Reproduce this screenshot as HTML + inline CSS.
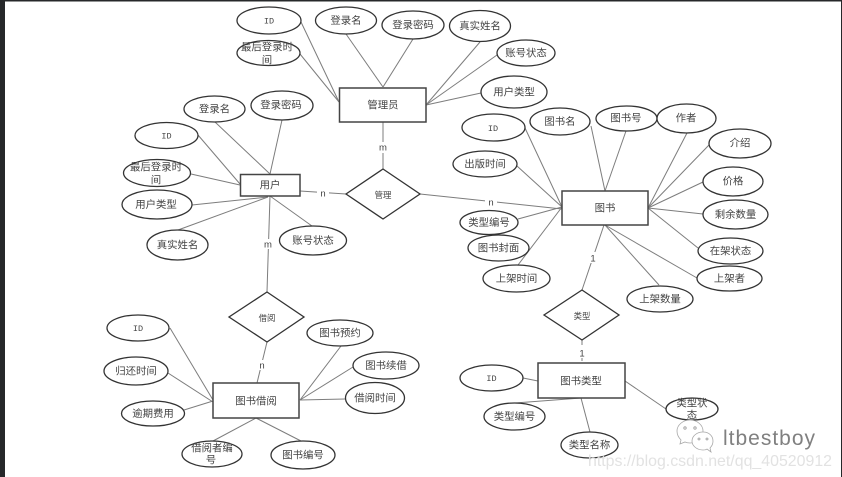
<!DOCTYPE html>
<html><head><meta charset="utf-8">
<style>
html,body{margin:0;padding:0;background:#fff;width:842px;height:477px;overflow:hidden}
svg{display:block}
.t{filter:blur(.3px)}
.t text{font-family:"Liberation Sans","WenQuanYi Zen Hei","Noto Sans CJK SC",sans-serif;font-size:10.4px;fill:#444;text-anchor:middle;dominant-baseline:central}
.t text.s{font-size:8.4px}
.t text.i{font-family:"Liberation Mono",monospace;font-size:8.5px}
.t text.r{font-size:9.5px}
.l line{stroke:#7d7d7d;stroke-width:1}
.e ellipse,.e rect,.e polygon{fill:#fff;stroke:#333;stroke-width:1.3}
.e rect{stroke-width:1.5;stroke:#444}
</style></head><body>
<svg width="842" height="477" viewBox="0 0 842 477" xmlns="http://www.w3.org/2000/svg">
<rect width="842" height="477" fill="#fff"/>
<g class="l">
<line x1="301" y1="22" x2="339" y2="102"/><line x1="300" y1="54" x2="339" y2="102"/>
<line x1="346" y1="34" x2="383" y2="87"/><line x1="413" y1="39" x2="383" y2="87"/>
<line x1="480" y1="42" x2="426" y2="105"/><line x1="497" y1="55" x2="426" y2="105"/>
<line x1="481" y1="93" x2="426" y2="105"/>
<line x1="383" y1="122" x2="383" y2="169"/>
<line x1="300" y1="191" x2="346" y2="194"/>
<line x1="420" y1="194" x2="562" y2="209"/>
<line x1="215" y1="122" x2="270" y2="174"/><line x1="282" y1="120" x2="270" y2="174"/>
<line x1="198" y1="135" x2="240" y2="184"/><line x1="191" y1="174" x2="240" y2="185"/>
<line x1="192" y1="205" x2="268" y2="197"/><line x1="178" y1="230" x2="268" y2="197"/>
<line x1="312" y1="226" x2="270" y2="196"/>
<line x1="270" y1="196" x2="267" y2="292"/>
<line x1="267" y1="342" x2="257" y2="383"/>
<line x1="170" y1="328" x2="213" y2="400"/><line x1="168" y1="373" x2="213" y2="402"/>
<line x1="184" y1="410" x2="213" y2="401"/>
<line x1="213" y1="441" x2="256" y2="418"/><line x1="301" y1="441" x2="256" y2="418"/>
<line x1="341" y1="346" x2="300" y2="400"/><line x1="353" y1="367" x2="300" y2="400"/>
<line x1="345" y1="399" x2="300" y2="400"/>
<line x1="525" y1="128" x2="562" y2="207"/><line x1="517" y1="166" x2="562" y2="207"/>
<line x1="518" y1="219" x2="562" y2="207"/>
<line x1="562" y1="207" x2="518" y2="265"/>
<line x1="591" y1="126" x2="605" y2="191"/><line x1="626" y1="131" x2="605" y2="191"/>
<line x1="687" y1="133" x2="648" y2="208"/><line x1="709" y1="145" x2="648" y2="208"/>
<line x1="703" y1="182" x2="648" y2="208"/><line x1="703" y1="214" x2="648" y2="208"/>
<line x1="698" y1="248" x2="648" y2="208"/>
<line x1="697" y1="278" x2="605" y2="225"/><line x1="659" y1="285" x2="605" y2="225"/>
<line x1="604" y1="225" x2="582" y2="290"/>
<line x1="582" y1="340" x2="582" y2="363" stroke-dasharray="5 3"/>
<line x1="523" y1="378" x2="538" y2="381"/><line x1="515" y1="403" x2="581" y2="398"/>
<line x1="590" y1="432" x2="581" y2="398"/><line x1="666" y1="409" x2="625" y2="381"/>
</g>
<g fill="#fff">
<rect x="376" y="142" width="14" height="11"/><rect x="317" y="188" width="12" height="10"/>
<rect x="485" y="197" width="12" height="10"/><rect x="262" y="239" width="12" height="10"/>
<rect x="256" y="360" width="12" height="10"/><rect x="587" y="252" width="12" height="11"/>
<rect x="576" y="348" width="12" height="10"/>
</g>
<g class="e">
<ellipse cx="269" cy="20.5" rx="32" ry="13.5"/><ellipse cx="268.5" cy="53" rx="31.5" ry="12.5"/>
<ellipse cx="346" cy="20.5" rx="30.5" ry="13.5"/><ellipse cx="413" cy="25" rx="31" ry="14"/>
<ellipse cx="480" cy="26" rx="30.5" ry="15.5"/><ellipse cx="526" cy="53" rx="29" ry="13"/>
<ellipse cx="514" cy="92" rx="33" ry="16"/>
<rect x="339.5" y="88" width="86.5" height="34"/>
<polygon points="383,169 420,194 383,219 346,194"/>
<rect x="240.5" y="174.5" width="59.5" height="21.5"/>
<ellipse cx="214.5" cy="109" rx="30.5" ry="13"/><ellipse cx="282" cy="105.5" rx="31" ry="14.5"/>
<ellipse cx="166.5" cy="135.5" rx="31.5" ry="13"/><ellipse cx="157" cy="173" rx="33.5" ry="13.5"/>
<ellipse cx="157" cy="204.5" rx="35" ry="14.5"/><ellipse cx="177.5" cy="245" rx="30.5" ry="15"/>
<ellipse cx="313" cy="240.5" rx="33.5" ry="14.5"/>
<polygon points="267,292 304,317 267,342 229,317"/>
<rect x="213" y="383" width="86" height="35"/>
<ellipse cx="138" cy="328" rx="31" ry="13"/><ellipse cx="136" cy="371" rx="32" ry="14"/>
<ellipse cx="153" cy="413.5" rx="31.5" ry="12.5"/><ellipse cx="212" cy="454" rx="30" ry="13"/>
<ellipse cx="303" cy="455" rx="32" ry="14"/><ellipse cx="340" cy="333" rx="33" ry="13"/>
<ellipse cx="386" cy="365.5" rx="33" ry="13.5"/><ellipse cx="375" cy="398" rx="29.5" ry="15.5"/>
<rect x="562" y="191" width="86" height="34"/>
<ellipse cx="493.5" cy="127.5" rx="31.5" ry="13.5"/><ellipse cx="560" cy="121.5" rx="30" ry="13.5"/>
<ellipse cx="626.5" cy="118.5" rx="30.5" ry="12.5"/><ellipse cx="686.5" cy="118.5" rx="29.5" ry="14.5"/>
<ellipse cx="740" cy="143.5" rx="31" ry="14.5"/><ellipse cx="733" cy="181.5" rx="30" ry="14.5"/>
<ellipse cx="735.5" cy="214.5" rx="32.5" ry="14.5"/><ellipse cx="730.5" cy="251" rx="32.5" ry="13"/>
<ellipse cx="729.5" cy="278.5" rx="32.5" ry="12.5"/><ellipse cx="660" cy="299" rx="33" ry="13"/>
<ellipse cx="516.5" cy="278.5" rx="33.5" ry="13.5"/><ellipse cx="498.5" cy="248" rx="30.5" ry="13"/>
<ellipse cx="489" cy="222.5" rx="29" ry="12"/><ellipse cx="485" cy="164" rx="32" ry="13"/>
<polygon points="582,290 619,315 582,340 544,315"/>
<rect x="538" y="363" width="87" height="35"/>
<ellipse cx="491.5" cy="378" rx="31.5" ry="13"/><ellipse cx="514.5" cy="416.5" rx="30.5" ry="13.5"/>
<ellipse cx="589.5" cy="445" rx="28.5" ry="13"/><ellipse cx="692" cy="409" rx="26" ry="11"/>
</g>
<g class="t" transform="translate(0 1)">
<text class="i" x="269" y="20.5">ID</text>
<text x="267" y="47">最后登录时</text><text x="267" y="60">间</text>
<text x="346" y="20.5">登录名</text><text x="413" y="25">登录密码</text>
<text x="480" y="26">真实姓名</text><text x="526" y="53">账号状态</text><text x="514" y="92">用户类型</text>
<text x="383" y="105">管理员</text><text class="s" x="383" y="194">管理</text>
<text class="r" x="383" y="147">m</text><text class="r" x="323" y="193">n</text><text class="r" x="491" y="202">n</text>
<text x="270" y="185">用户</text>
<text x="214.5" y="109">登录名</text><text x="281" y="105">登录密码</text>
<text class="i" x="166.5" y="135.5">ID</text>
<text x="156" y="167">最后登录时</text><text x="156" y="180">间</text>
<text x="156" y="204.5">用户类型</text><text x="177.5" y="245">真实姓名</text><text x="313" y="240.5">账号状态</text>
<text class="r" x="268" y="244">m</text>
<text class="s" x="267" y="317">借阅</text>
<text class="r" x="262" y="365">n</text>
<text x="256" y="401">图书借阅</text>
<text class="i" x="138" y="328">ID</text>
<text x="136" y="371">归还时间</text><text x="153" y="413.5">逾期费用</text>
<text x="212" y="448">借阅者编</text><text x="211" y="460">号</text>
<text x="303" y="455">图书编号</text><text x="340" y="333">图书预约</text>
<text x="386" y="365.5">图书续借</text><text x="375" y="398">借阅时间</text>
<text x="605" y="208">图书</text>
<text class="i" x="493" y="128">ID</text>
<text x="560" y="121.5">图书名</text><text x="626" y="118">图书号</text><text x="686" y="118">作者</text>
<text x="740" y="143">介绍</text><text x="733" y="181">价格</text><text x="735.5" y="214.5">剩余数量</text>
<text x="730.5" y="251">在架状态</text><text x="729.5" y="278.5">上架者</text><text x="660" y="299">上架数量</text>
<text x="516.5" y="278.5">上架时间</text><text x="498.5" y="248">图书封面</text>
<text x="489" y="222.5">类型编号</text><text x="485" y="164">出版时间</text>
<text class="s" x="582" y="315">类型</text>
<text class="r" x="593" y="258">1</text><text class="r" x="582" y="353">1</text>
<text x="581" y="381">图书类型</text>
<text class="i" x="491.5" y="378">ID</text>
<text x="514.5" y="416.5">类型编号</text><text x="589.5" y="445">类型名称</text>
<text x="692" y="403">类型状</text><text x="692" y="415">态</text>
</g>
<g fill="#fff" stroke="#a8a8a8" stroke-width="0.8">
<path d="M690 420c-7 0-13 5-13 11 0 4 2 7 4 9l-1 4 5-2c2 1 3 1 5 1 7 0 13-5 13-12 0-6-6-11-13-11z"/>
<path d="M703 432c-6 0-11 4-11 9s5 9 11 9c1 0 3 0 4-1l4 3-1-4c2-2 3-4 3-7 0-5-4-9-10-9z"/>
<g fill="none" stroke="#999"><circle cx="685" cy="428" r="1.2"/><circle cx="695" cy="428" r="1.2"/><circle cx="699" cy="439" r="1"/><circle cx="707" cy="439" r="1"/></g>
</g>
<text x="723" y="445" textLength="92" lengthAdjust="spacing" font-family="'Liberation Sans',sans-serif" font-size="21" fill="#808080">ltbestboy</text>
<text x="588" y="466" textLength="244" lengthAdjust="spacingAndGlyphs" font-family="'Liberation Sans',sans-serif" font-size="16" fill="#e2e2e2">https://blog.csdn.net/qq_40520912</text>
<rect x="0" y="0" width="842" height="1.5" fill="#26282a"/>
<rect x="0" y="0" width="5" height="477" fill="#26282a"/>
<rect x="841" y="0" width="1" height="477" fill="#26282a"/>
</svg>
</body></html>
